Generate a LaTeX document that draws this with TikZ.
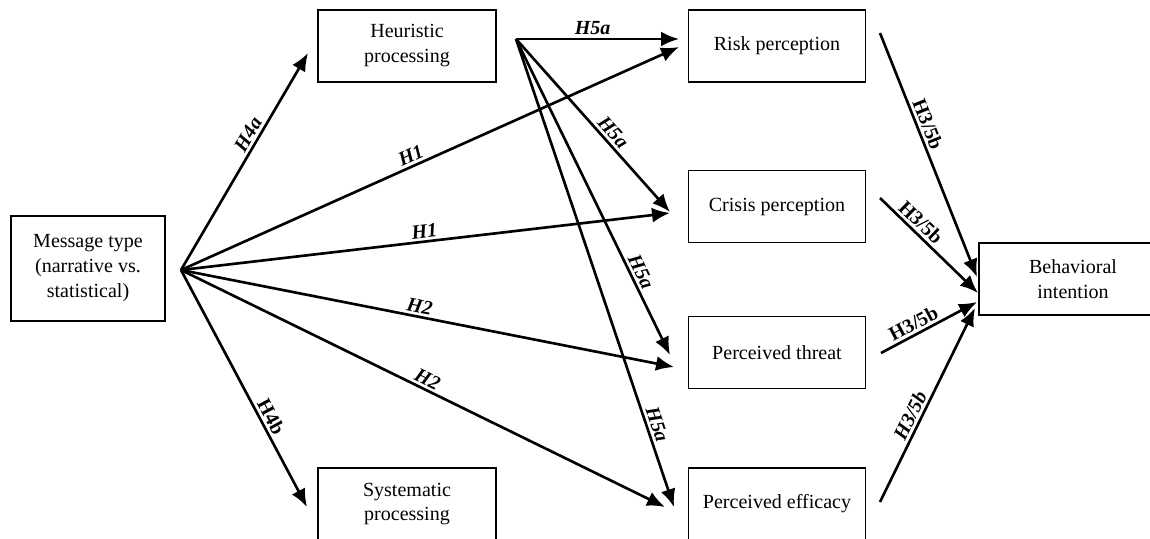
\documentclass[tikz,border=0pt]{standalone}
\usepackage{fontspec}
\setmainfont{Liberation Serif}
\usetikzlibrary{arrows.meta}

\begin{document}
\begin{tikzpicture}[x=0.02cm, y=-0.02cm, >={Latex[length=3.6mm,width=3mm]},
    font=\fontsize{11.4}{14.2}\selectfont,
    box/.style={draw, line width=0.9pt, align=center, minimum width=3.54cm, minimum height=1.44cm},
    link/.style={->, line width=1.5pt},
    hyp/.style={sloped, above, inner sep=1.5pt, font=\fontsize{11.4}{13}\selectfont\bfseries\itshape},
    hypup/.style={hyp, font=\fontsize{11.4}{13}\selectfont\bfseries}]
    \useasboundingbox (0,0) rectangle (1150,538);

    \node[box, minimum width=3.08cm, minimum height=2.1cm] (msg) at (88,268.5)
          {Message type \\ (narrative vs. \\ statistical)};
    \node[box, minimum width=3.56cm] (heu) at (407,46)  {Heuristic \\ processing};
    \node[box, minimum width=3.56cm] (sys) at (407,504) {Systematic \\ processing};

    \node[box] (risk)   at (777,46)    {Risk perception};
    \node[box] (crisis) at (777,206.5) {Crisis perception};
    \node[box] (threat) at (777,352.5) {Perceived threat};
    \node[box] (eff)    at (777,504)   {Perceived efficacy};

    \node[box, minimum width=3.76cm] (beh) at (1073,279) {Behavioral \\ intention};

    % free ends of the arrows
    \coordinate (msgout) at (181,270);
    \coordinate (heuout) at (516,39);
    \coordinate (heuin)  at (308,53);
    \coordinate (sysin)  at (307,507);
    \coordinate (riskin1)   at (679,47);
    \coordinate (riskin2)   at (679,39);
    \coordinate (crisisin1) at (670,213);
    \coordinate (crisisin2) at (670,212);
    \coordinate (threatin1) at (674,367);
    \coordinate (threatin2) at (670,355);
    \coordinate (effin1)    at (665,507);
    \coordinate (effin2)    at (674,507);
    \coordinate (riskout)   at (880,33);
    \coordinate (crisisout) at (880,198);
    \coordinate (threatout) at (881,353);
    \coordinate (effout)    at (880,502);
    \coordinate (behin1) at (977,277);
    \coordinate (behin2) at (978,293);
    \coordinate (behin3) at (977,302);
    \coordinate (behin4) at (975,308);

    \draw[link] (msgout) -- node[hyp, pos=0.6]  {H4a} (heuin);
    \draw[link] (msgout) -- node[hypup, pos=0.64] {H4b} (sysin);
    \draw[link] (msgout) -- node[hyp, pos=0.47] {H1} (riskin1);
    \draw[link] (msgout) -- node[hyp, pos=0.5]  {H1} (crisisin1);
    \draw[link] (msgout) -- node[hyp, pos=0.48] {H2} (threatin1);
    \draw[link] (msgout) -- node[hyp, pos=0.5]  {H2} (effin1);

    \draw[link] (heuout) -- node[hyp, pos=0.47] {H5a} (riskin2);
    \draw[link] (heuout) -- node[hyp, pos=0.58] {H5a} (crisisin2);
    \draw[link] (heuout) -- node[hyp, pos=0.75] {H5a} (threatin2);
    \draw[link] (heuout) -- node[hyp, pos=0.83] {H5a} (effin2);

    \draw[link] (riskout)   -- node[hypup, pos=0.39] {H3/5b} (behin1);
    \draw[link] (crisisout) -- node[hypup, pos=0.34] {H3/5b} (behin2);
    \draw[link] (threatout) -- node[hypup, pos=0.39] {H3/5b} (behin3);
    \draw[link] (effout)    -- node[hyp, pos=0.42]   {H3/5b} (behin4);
  \end{tikzpicture}
\end{document}
